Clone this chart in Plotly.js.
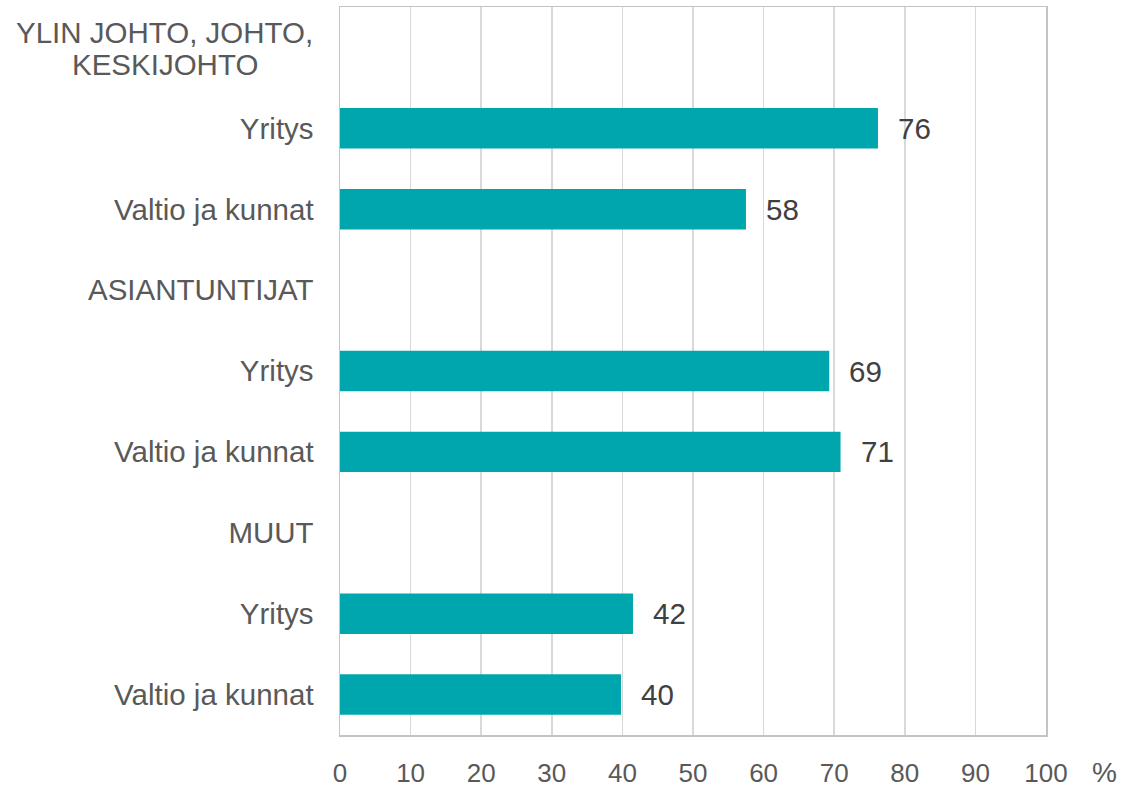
<!DOCTYPE html>
<html>
<head>
<meta charset="utf-8">
<script src="https://cdn.plot.ly/plotly-3.0.1.min.js"></script>
<style>html,body{margin:0;padding:0;background:#fff;}#chart{width:1126px;height:787px;}</style>
</head>
<body>
<div id="chart"></div>
<script>
// Data
const categories = ["YLIN JOHTO, JOHTO, KESKIJOHTO", "Yritys ", "Valtio ja kunnat ", "ASIANTUNTIJAT", "Yritys  ", "Valtio ja kunnat  ", "MUUT", "Yritys   ", "Valtio ja kunnat   "];
const tickLabels = ["", "Yritys", "Valtio ja kunnat", "ASIANTUNTIJAT", "Yritys", "Valtio ja kunnat", "MUUT", "Yritys", "Valtio ja kunnat"];
const values = [null, 76.2, 57.5, null, 69.3, 70.9, null, 41.5, 39.8];
const valueLabels = [null, "76", "58", null, "69", "71", null, "42", "40"];
const headerLines = ["YLIN JOHTO, JOHTO,", "KESKIJOHTO"];
const xTicks = [0, 10, 20, 30, 40, 50, 60, 70, 80, 90, 100];
const unitLabel = "%";

const font = "Liberation Sans, Arial, sans-serif";
const gray = "#595959";

const trace = {
  type: "bar",
  orientation: "h",
  x: values,
  y: categories,
  width: 0.5,
  marker: {color: "#00A6AE"},
  hoverinfo: "x+y"
};

const annotations = [];
values.forEach((v, i) => {
  if (v !== null) {
    annotations.push({
      x: v, y: categories[i], xref: "x", yref: "y",
      text: valueLabels[i], showarrow: false, xanchor: "left", yanchor: "middle",
      xshift: 18, font: {family: font, size: 29.5, color: "#404040"}
    });
  }
});
headerLines.forEach((t, j) => {
  annotations.push({
    x: -0.248, y: categories[0], xref: "paper", yref: "y",
    text: t, showarrow: false, xanchor: "center", yanchor: "middle",
    yshift: j === 0 ? 15 : -17, font: {family: font, size: 29.5, color: gray}
  });
});
annotations.push({
  x: 1.0826, y: 0, xref: "paper", yref: "paper", text: unitLabel, showarrow: false,
  xanchor: "center", yanchor: "middle", yshift: -37, font: {family: font, size: 28, color: gray}
});

const layout = {
  width: 1126, height: 787,
  margin: {l: 340, r: 80, t: 7, b: 52},
  paper_bgcolor: "#fff", plot_bgcolor: "#fff",
  showlegend: false,
  bargap: 0.5,
  font: {family: font, color: gray},
  xaxis: {
    range: [0, 100], tickvals: xTicks, ticktext: xTicks.map(String),
    showgrid: true, gridcolor: "#d9d9d9", gridwidth: 1.5,
    zeroline: false, showline: true, linecolor: "#c4c4c4", linewidth: 1.5, mirror: true,
    ticks: "", tickfont: {family: font, size: 26, color: gray}, ticklabelstandoff: 14,
    fixedrange: true
  },
  yaxis: {
    type: "category", categoryarray: categories, autorange: "reversed",
    tickvals: categories, ticktext: tickLabels,
    showgrid: false, zeroline: false, showline: true, linecolor: "#c4c4c4", linewidth: 1.5, mirror: true,
    ticks: "", tickfont: {family: font, size: 29.5, color: gray}, ticklabelstandoff: 19,
    fixedrange: true
  },
  annotations: annotations
};

Plotly.newPlot("chart", [trace], layout, {displayModeBar: false, staticPlot: true});
</script>
</body>
</html>
